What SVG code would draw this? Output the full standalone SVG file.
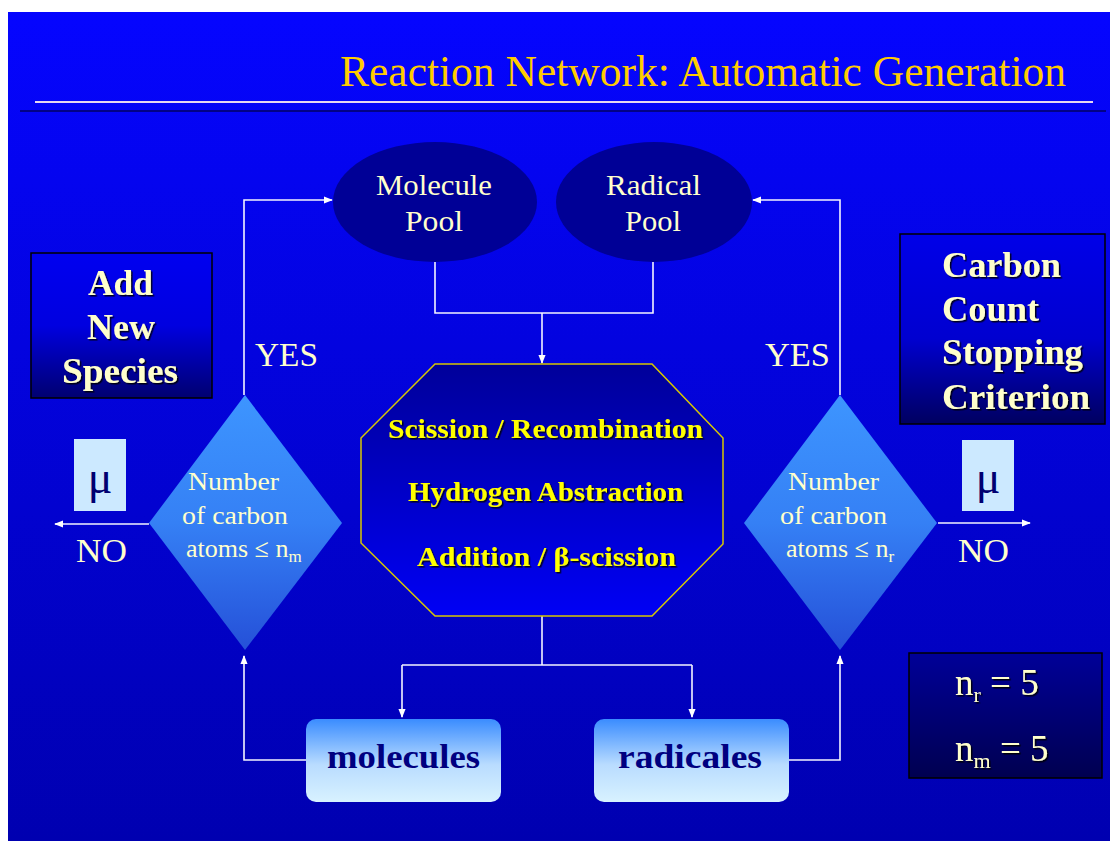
<svg xmlns="http://www.w3.org/2000/svg" width="1110" height="841" viewBox="0 0 1110 841">
<defs>
<linearGradient id="bg" x1="0" y1="0" x2="0" y2="1"><stop offset="0" stop-color="#0505ff"/><stop offset="1" stop-color="#0000b0"/></linearGradient>
<linearGradient id="octG" x1="0" y1="0" x2="0" y2="1"><stop offset="0" stop-color="#00009a"/><stop offset="1" stop-color="#0000f5"/></linearGradient>
<linearGradient id="diaG" x1="0" y1="0" x2="0" y2="1"><stop offset="0" stop-color="#3d95ff"/><stop offset="0.5" stop-color="#3580f5"/><stop offset="1" stop-color="#2550d8"/></linearGradient>
<linearGradient id="boxG" x1="0" y1="0" x2="0" y2="1"><stop offset="0" stop-color="#3a8cff"/><stop offset="0.55" stop-color="#b9dcff"/><stop offset="1" stop-color="#d8f2ff"/></linearGradient>
<linearGradient id="addG" x1="0" y1="0" x2="0" y2="1"><stop offset="0" stop-color="#0000f0"/><stop offset="0.5" stop-color="#0000e0"/><stop offset="1" stop-color="#000070"/></linearGradient>
<linearGradient id="carG" x1="0" y1="0" x2="0" y2="1"><stop offset="0" stop-color="#0000e8"/><stop offset="0.55" stop-color="#0000d0"/><stop offset="1" stop-color="#000060"/></linearGradient>
<linearGradient id="nG" x1="0" y1="0" x2="0" y2="1"><stop offset="0" stop-color="#000098"/><stop offset="1" stop-color="#000050"/></linearGradient>
<filter id="sh" x="-10%" y="-10%" width="130%" height="140%"><feDropShadow dx="1.5" dy="1.5" stdDeviation="0.3" flood-color="#000000" flood-opacity="0.85"/></filter>
<marker id="arr" viewBox="0 0 10 10" refX="9" refY="5" markerWidth="9" markerHeight="9" markerUnits="userSpaceOnUse" orient="auto"><path d="M0,1 L10,5 L0,9 z" fill="#ffffff"/></marker>
</defs>
<style>
.s{font-family:"Liberation Serif","Times New Roman",serif}
.cream{fill:#ffffcc}
.wire{fill:none;stroke:#f4f4ff;stroke-width:1.6}
.b{font-weight:bold}
</style>
<rect x="0" y="0" width="1110" height="841" fill="#ffffff"/>
<rect x="8" y="12" width="1102" height="829" fill="url(#bg)"/>
<g id="title">
<text class="s" x="340" y="86" font-size="44" fill="#ffcc00" textLength="726" lengthAdjust="spacingAndGlyphs">Reaction Network: Automatic Generation</text>
<line x1="20" y1="111" x2="1106" y2="111" stroke="#000060" stroke-width="1.5"/>
<line x1="35" y1="102" x2="1093" y2="102" stroke="#e8d8f0" stroke-width="2"/>
</g>
<g id="connectors">
<path class="wire" d="M435,262 V313 H653 V262"/>
<path class="wire" d="M542,313 V363" marker-end="url(#arr)"/>
<path class="wire" d="M244,395 V200 H332" marker-end="url(#arr)"/>
<path class="wire" d="M840,395 V200 H753" marker-end="url(#arr)"/>
<path class="wire" d="M542,616 V665"/>
<path class="wire" d="M402,665 H692"/>
<path class="wire" d="M402,665 V717" marker-end="url(#arr)"/>
<path class="wire" d="M692,665 V717" marker-end="url(#arr)"/>
<path class="wire" d="M306,760 H244 V656" marker-end="url(#arr)"/>
<path class="wire" d="M789,760 H840 V656" marker-end="url(#arr)"/>
<path class="wire" d="M149,524 H55" marker-end="url(#arr)"/>
<path class="wire" d="M938,523 H1030" marker-end="url(#arr)"/>
<text class="s cream" x="255" y="366" font-size="34" textLength="63" lengthAdjust="spacingAndGlyphs">YES</text>
<text class="s cream" x="765" y="366" font-size="34" textLength="65" lengthAdjust="spacingAndGlyphs">YES</text>
<text class="s cream" x="76" y="562" font-size="33" textLength="51" lengthAdjust="spacingAndGlyphs">NO</text>
<text class="s cream" x="958" y="562" font-size="33" textLength="51" lengthAdjust="spacingAndGlyphs">NO</text>
</g>
<g id="molecule-pool">
<ellipse cx="435" cy="202" rx="102" ry="60" fill="#000096"/>
<text class="s cream" x="376" y="195" font-size="29" textLength="116" lengthAdjust="spacingAndGlyphs">Molecule</text>
<text class="s cream" x="405" y="231" font-size="29" textLength="58" lengthAdjust="spacingAndGlyphs">Pool</text>
</g>
<g id="radical-pool">
<ellipse cx="654" cy="202" rx="98" ry="60" fill="#000096"/>
<text class="s cream" x="606" y="195" font-size="29" textLength="95" lengthAdjust="spacingAndGlyphs">Radical</text>
<text class="s cream" x="625" y="231" font-size="29" textLength="56" lengthAdjust="spacingAndGlyphs">Pool</text>
</g>
<g id="reactions">
<polygon points="435,364 652,364 723,438 723,544 652,616 435,616 361,543 361,438" fill="url(#octG)" stroke="#d8c800" stroke-width="1.5"/>
<g class="s b" font-size="28" fill="#ffff00" filter="url(#sh)" lengthAdjust="spacingAndGlyphs">
<text x="388" y="438" textLength="315" lengthAdjust="spacingAndGlyphs">Scission / Recombination</text>
<text x="408" y="501" textLength="275" lengthAdjust="spacingAndGlyphs">Hydrogen Abstraction</text>
<text x="417" y="566" textLength="259" lengthAdjust="spacingAndGlyphs">Addition / β-scission</text>
</g>
</g>
<g id="decision-molecules">
<polygon points="245,395 342,523 245,650 149,523" fill="url(#diaG)"/>
<g class="s cream" font-size="26">
<text x="188" y="490" textLength="91" lengthAdjust="spacingAndGlyphs">Number</text>
<text x="182" y="524" textLength="106" lengthAdjust="spacingAndGlyphs">of carbon</text>
<text x="186" y="557">atoms ≤ n<tspan font-size="17" dy="5">m</tspan></text>
</g>
</g>
<g id="decision-radicals">
<polygon points="840,395 937,523 840,650 744,523" fill="url(#diaG)"/>
<g class="s cream" font-size="26">
<text x="788" y="490" textLength="91" lengthAdjust="spacingAndGlyphs">Number</text>
<text x="780" y="524" textLength="107" lengthAdjust="spacingAndGlyphs">of carbon</text>
<text x="786" y="557">atoms ≤ n<tspan font-size="17" dy="5">r</tspan></text>
</g>
</g>
<g id="mu-left">
<rect x="74" y="439" width="52" height="72" fill="#cce9ff"/>
<text class="s" x="100" y="493" font-size="46" fill="#000070" text-anchor="middle">μ</text>
</g>
<g id="mu-right">
<rect x="962" y="440" width="52" height="71" fill="#cce9ff"/>
<text class="s" x="988" y="493" font-size="46" fill="#000070" text-anchor="middle">μ</text>
</g>
<g id="molecules">
<rect x="306" y="719" width="195" height="83" rx="10" fill="url(#boxG)"/>
<text class="s b" x="327" y="768" font-size="34" fill="#000080" textLength="153" lengthAdjust="spacingAndGlyphs">molecules</text>
</g>
<g id="radicales">
<rect x="594" y="719" width="195" height="83" rx="10" fill="url(#boxG)"/>
<text class="s b" x="618" y="768" font-size="34" fill="#000080" textLength="144" lengthAdjust="spacingAndGlyphs">radicales</text>
</g>
<g id="add-new-species">
<rect x="31" y="253" width="181" height="145" fill="url(#addG)" stroke="#000000" stroke-width="1.5"/>
<g class="s b cream" font-size="35" filter="url(#sh)">
<text x="88" y="295" textLength="65" lengthAdjust="spacingAndGlyphs">Add</text>
<text x="87" y="339" textLength="68" lengthAdjust="spacingAndGlyphs">New</text>
<text x="62" y="383" textLength="116" lengthAdjust="spacingAndGlyphs">Species</text>
</g>
</g>
<g id="stopping-criterion">
<rect x="900" y="234" width="205" height="190" fill="url(#carG)" stroke="#000000" stroke-width="1.5"/>
<g class="s b cream" font-size="36" filter="url(#sh)">
<text x="942" y="277" textLength="119" lengthAdjust="spacingAndGlyphs">Carbon</text>
<text x="942" y="321" textLength="97" lengthAdjust="spacingAndGlyphs">Count</text>
<text x="942" y="364" textLength="141" lengthAdjust="spacingAndGlyphs">Stopping</text>
<text x="942" y="409" textLength="148" lengthAdjust="spacingAndGlyphs">Criterion</text>
</g>
</g>
<g id="limits">
<rect x="909" y="653" width="193" height="125" fill="url(#nG)" stroke="#000000" stroke-width="1.5"/>
<g class="s cream" font-size="37" filter="url(#sh)">
<text x="955" y="695">n<tspan font-size="22" dy="7">r</tspan><tspan dy="-7"> = 5</tspan></text>
<text x="955" y="761">n<tspan font-size="22" dy="7">m</tspan><tspan dy="-7"> = 5</tspan></text>
</g>
</g>
</svg>
